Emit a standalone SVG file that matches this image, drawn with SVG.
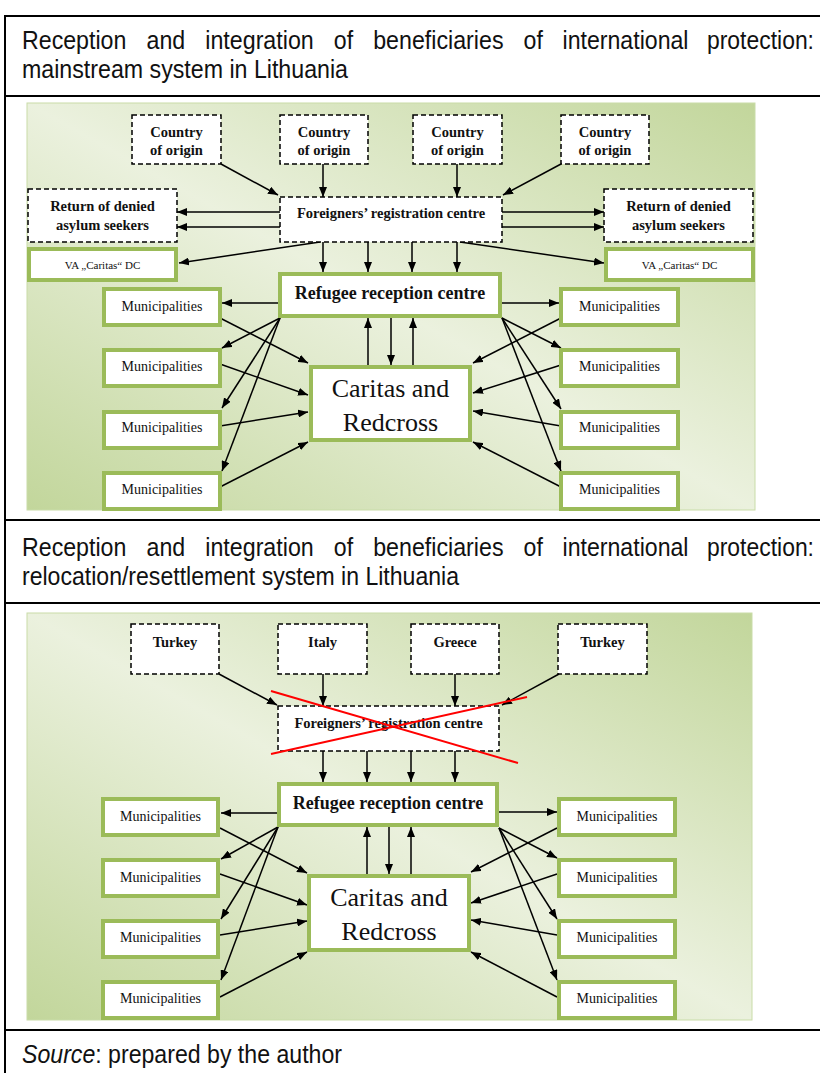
<svg xmlns="http://www.w3.org/2000/svg" width="820" height="1073" viewBox="0 0 820 1073">
<defs>
<linearGradient id="bg" x1="1" y1="0" x2="0" y2="1">
<stop offset="0" stop-color="#c2d69b"/>
<stop offset="0.5" stop-color="#ebf1de"/>
<stop offset="1" stop-color="#c2d69b"/>
</linearGradient>
<marker id="ah" viewBox="0 0 10 8" refX="10" refY="4" markerWidth="10" markerHeight="8" markerUnits="userSpaceOnUse" orient="auto">
<path d="M0,0 L10,4 L0,8 z" fill="#000"/>
</marker>
<style>
.tline{stroke:#000;stroke-width:2;fill:none}
.ttl{font-family:"Liberation Sans Narrow","Liberation Sans",Arial,sans-serif;font-size:25px;fill:#111}
.panel{fill:url(#bg);stroke:#c9dca8;stroke-width:1}
.dash{fill:#fff;stroke:#000;stroke-width:1.5;stroke-dasharray:5,3}
.grn{fill:#fff;stroke:#9bbb59;stroke-width:4}
.b{font-family:"Liberation Serif","Times New Roman",serif;font-weight:bold;font-size:14.5px;fill:#111;text-anchor:middle}
.rc{font-family:"Liberation Serif","Times New Roman",serif;font-weight:bold;font-size:18px;fill:#111;text-anchor:middle}
.m{font-family:"Liberation Serif","Times New Roman",serif;font-size:14px;fill:#111;text-anchor:middle}
.va{font-family:"Liberation Serif","Times New Roman",serif;font-size:11px;fill:#111;text-anchor:middle}
.cr{font-family:"Liberation Serif","Times New Roman",serif;font-size:26px;fill:#111;text-anchor:middle}
.ar{stroke:#000;stroke-width:1.5;fill:none;marker-end:url(#ah)}
.x{stroke:#ff0000;stroke-width:2;fill:none}
</style>
</defs>
<rect width="820" height="1073" fill="#fff"/>

<g id="table">
<line class="tline" x1="5" y1="16" x2="820" y2="16"/>
<line class="tline" x1="5" y1="96" x2="820" y2="96"/>
<line class="tline" x1="5" y1="520" x2="820" y2="520"/>
<line class="tline" x1="5" y1="603" x2="820" y2="603"/>
<line class="tline" x1="5" y1="1030" x2="820" y2="1030"/>
<line class="tline" x1="5" y1="15" x2="5" y2="1073"/>
</g>

<g id="title1" class="ttl">
<text y="49" x="22" textLength="104.4" lengthAdjust="spacingAndGlyphs">Reception</text>
<text y="49" x="146.5" textLength="38.7" lengthAdjust="spacingAndGlyphs">and</text>
<text y="49" x="205.3" textLength="108.4" lengthAdjust="spacingAndGlyphs">integration</text>
<text y="49" x="333.8" textLength="19.3" lengthAdjust="spacingAndGlyphs">of</text>
<text y="49" x="373.2" textLength="130.3" lengthAdjust="spacingAndGlyphs">beneficiaries</text>
<text y="49" x="523.6" textLength="19.3" lengthAdjust="spacingAndGlyphs">of</text>
<text y="49" x="562.5" textLength="126" lengthAdjust="spacingAndGlyphs">international</text>
<text y="49" x="707" textLength="107" lengthAdjust="spacingAndGlyphs">protection:</text>
<text y="78" x="22" textLength="326" lengthAdjust="spacingAndGlyphs">mainstream system in Lithuania</text>
</g>

<g id="title2" class="ttl">
<text y="556" x="22" textLength="104.4" lengthAdjust="spacingAndGlyphs">Reception</text>
<text y="556" x="146.5" textLength="38.7" lengthAdjust="spacingAndGlyphs">and</text>
<text y="556" x="205.3" textLength="108.4" lengthAdjust="spacingAndGlyphs">integration</text>
<text y="556" x="333.8" textLength="19.3" lengthAdjust="spacingAndGlyphs">of</text>
<text y="556" x="373.2" textLength="130.3" lengthAdjust="spacingAndGlyphs">beneficiaries</text>
<text y="556" x="523.6" textLength="19.3" lengthAdjust="spacingAndGlyphs">of</text>
<text y="556" x="562.5" textLength="126" lengthAdjust="spacingAndGlyphs">international</text>
<text y="556" x="707" textLength="107" lengthAdjust="spacingAndGlyphs">protection:</text>
<text y="585" x="22" textLength="437" lengthAdjust="spacingAndGlyphs">relocation/resettlement system in Lithuania</text>
</g>

<g id="source" class="ttl">
<text y="1063" x="22" textLength="320" lengthAdjust="spacingAndGlyphs"><tspan font-style="italic">Source</tspan>: prepared by the author</text>
</g>

<!-- ===== Diagram 1 ===== -->
<rect id="panel1" class="panel" x="27" y="103" width="728" height="407"/>

<g id="d1-connectors">
<line class="ar" x1="221" y1="164" x2="278" y2="195"/>
<line class="ar" x1="323" y1="164" x2="323" y2="197"/>
<line class="ar" x1="457" y1="164" x2="457" y2="197"/>
<line class="ar" x1="561" y1="164" x2="503" y2="195"/>
<line class="ar" x1="280" y1="212" x2="177" y2="212"/>
<line class="ar" x1="280" y1="227" x2="177" y2="227"/>
<line class="ar" x1="502" y1="212" x2="604" y2="212"/>
<line class="ar" x1="502" y1="227" x2="604" y2="227"/>
<line class="ar" x1="320" y1="242" x2="179" y2="263"/>
<line class="ar" x1="460" y1="242" x2="604" y2="263"/>
<line class="ar" x1="323" y1="242" x2="323" y2="272"/>
<line class="ar" x1="368" y1="242" x2="368" y2="272"/>
<line class="ar" x1="412" y1="242" x2="412" y2="272"/>
<line class="ar" x1="457" y1="242" x2="457" y2="272"/>
<line class="ar" x1="278" y1="303" x2="222" y2="303"/>
<line class="ar" x1="502" y1="303" x2="559" y2="303"/>
<line class="ar" x1="280" y1="318" x2="222" y2="348"/>
<line class="ar" x1="280" y1="318" x2="222" y2="408"/>
<line class="ar" x1="280" y1="318" x2="222" y2="471"/>
<line class="ar" x1="502" y1="318" x2="561" y2="348"/>
<line class="ar" x1="502" y1="318" x2="561" y2="409"/>
<line class="ar" x1="502" y1="318" x2="561" y2="471"/>
<line class="ar" x1="220" y1="318" x2="308" y2="363"/>
<line class="ar" x1="220" y1="364" x2="308" y2="395"/>
<line class="ar" x1="220" y1="426" x2="308" y2="412"/>
<line class="ar" x1="220" y1="487" x2="308" y2="442"/>
<line class="ar" x1="561" y1="318" x2="473" y2="363"/>
<line class="ar" x1="561" y1="365" x2="473" y2="393"/>
<line class="ar" x1="561" y1="426" x2="473" y2="411"/>
<line class="ar" x1="561" y1="487" x2="473" y2="442"/>
<line class="ar" x1="368" y1="365" x2="368" y2="318"/>
<line class="ar" x1="391" y1="318" x2="391" y2="365"/>
<line class="ar" x1="413" y1="365" x2="413" y2="318"/>
</g>

<g id="d1-country1"><rect class="dash" x="132" y="115" width="89" height="49"/><text class="b" x="176.5" y="137">Country</text><text class="b" x="176.5" y="155">of origin</text></g>
<g id="d1-country2"><rect class="dash" x="280" y="115" width="88" height="49"/><text class="b" x="324" y="137">Country</text><text class="b" x="324" y="155">of origin</text></g>
<g id="d1-country3"><rect class="dash" x="413" y="115" width="89" height="49"/><text class="b" x="457.5" y="137">Country</text><text class="b" x="457.5" y="155">of origin</text></g>
<g id="d1-country4"><rect class="dash" x="561" y="115" width="88" height="49"/><text class="b" x="605" y="137">Country</text><text class="b" x="605" y="155">of origin</text></g>
<g id="d1-return-left"><rect class="dash" x="28" y="189" width="149" height="53"/><text class="b" x="102.5" y="211">Return of denied</text><text class="b" x="102.5" y="230">asylum seekers</text></g>
<g id="d1-return-right"><rect class="dash" x="604" y="189" width="149" height="53"/><text class="b" x="678.5" y="211">Return of denied</text><text class="b" x="678.5" y="230">asylum seekers</text></g>
<g id="d1-foreigners"><rect class="dash" x="280" y="197" width="222" height="45"/><text class="b" x="391" y="218">Foreigners’ registration centre</text></g>
<g id="d1-va-left"><rect class="grn" x="29" y="249" width="147" height="31"/><text class="va" x="102.5" y="269">VA „Caritas“ DC</text></g>
<g id="d1-va-right"><rect class="grn" x="606" y="249" width="147" height="31"/><text class="va" x="679.5" y="269">VA „Caritas“ DC</text></g>
<g id="d1-refugee"><rect class="grn" x="280" y="274" width="220" height="42"/><text class="rc" x="390" y="299">Refugee reception centre</text></g>
<g id="d1-muni-l1"><rect class="grn" x="104" y="289" width="116" height="36"/><text class="m" x="162" y="311">Municipalities</text></g>
<g id="d1-muni-l2"><rect class="grn" x="104" y="350" width="116" height="36"/><text class="m" x="162" y="371">Municipalities</text></g>
<g id="d1-muni-l3"><rect class="grn" x="104" y="412" width="116" height="36"/><text class="m" x="162" y="432">Municipalities</text></g>
<g id="d1-muni-l4"><rect class="grn" x="104" y="473" width="116" height="36"/><text class="m" x="162" y="494">Municipalities</text></g>
<g id="d1-muni-r1"><rect class="grn" x="561" y="289" width="117" height="36"/><text class="m" x="619.5" y="311">Municipalities</text></g>
<g id="d1-muni-r2"><rect class="grn" x="561" y="350" width="117" height="36"/><text class="m" x="619.5" y="371">Municipalities</text></g>
<g id="d1-muni-r3"><rect class="grn" x="561" y="412" width="117" height="36"/><text class="m" x="619.5" y="432">Municipalities</text></g>
<g id="d1-muni-r4"><rect class="grn" x="561" y="473" width="117" height="36"/><text class="m" x="619.5" y="494">Municipalities</text></g>
<g id="d1-caritas"><rect class="grn" x="311" y="367" width="159" height="73"/><text class="cr" x="390.5" y="397">Caritas and</text><text class="cr" x="390.5" y="431">Redcross</text></g>

<!-- ===== Diagram 2 ===== -->
<rect id="panel2" class="panel" x="27" y="613" width="725" height="407"/>

<g id="d2-connectors">
<line class="ar" x1="219" y1="674" x2="277" y2="705"/>
<line class="ar" x1="323" y1="674" x2="323" y2="706"/>
<line class="ar" x1="455" y1="674" x2="455" y2="706"/>
<line class="ar" x1="559" y1="674" x2="502" y2="705"/>
<line class="ar" x1="323" y1="751" x2="323" y2="782"/>
<line class="ar" x1="367" y1="751" x2="367" y2="782"/>
<line class="ar" x1="411" y1="751" x2="411" y2="782"/>
<line class="ar" x1="455" y1="751" x2="455" y2="782"/>
<line class="ar" x1="277" y1="813" x2="221" y2="813"/>
<line class="ar" x1="499" y1="812" x2="557" y2="812"/>
<line class="ar" x1="278" y1="827" x2="221" y2="859"/>
<line class="ar" x1="278" y1="827" x2="221" y2="919"/>
<line class="ar" x1="278" y1="827" x2="221" y2="980"/>
<line class="ar" x1="499" y1="828" x2="557" y2="858"/>
<line class="ar" x1="499" y1="828" x2="557" y2="919"/>
<line class="ar" x1="499" y1="828" x2="557" y2="980"/>
<line class="ar" x1="220" y1="828" x2="307" y2="873"/>
<line class="ar" x1="220" y1="874" x2="307" y2="905"/>
<line class="ar" x1="220" y1="935" x2="307" y2="921"/>
<line class="ar" x1="220" y1="997" x2="307" y2="952"/>
<line class="ar" x1="557" y1="828" x2="471" y2="872"/>
<line class="ar" x1="557" y1="874" x2="471" y2="903"/>
<line class="ar" x1="557" y1="935" x2="471" y2="920"/>
<line class="ar" x1="557" y1="997" x2="471" y2="952"/>
<line class="ar" x1="367" y1="874" x2="367" y2="827"/>
<line class="ar" x1="389" y1="827" x2="389" y2="874"/>
<line class="ar" x1="411" y1="874" x2="411" y2="827"/>
</g>

<g id="d2-turkey1"><rect class="dash" x="131" y="624" width="88" height="50"/><text class="b" x="175" y="647">Turkey</text></g>
<g id="d2-italy"><rect class="dash" x="278" y="624" width="89" height="50"/><text class="b" x="322.5" y="647">Italy</text></g>
<g id="d2-greece"><rect class="dash" x="411" y="624" width="88" height="50"/><text class="b" x="455" y="647">Greece</text></g>
<g id="d2-turkey2"><rect class="dash" x="558" y="624" width="89" height="50"/><text class="b" x="602.5" y="647">Turkey</text></g>
<g id="d2-foreigners"><rect class="dash" x="278" y="706" width="221" height="45"/><text class="b" x="388.5" y="728">Foreigners’ registration centre</text></g>
<g id="d2-refugee"><rect class="grn" x="279" y="784" width="218" height="41"/><text class="rc" x="388" y="809">Refugee reception centre</text></g>
<g id="d2-muni-l1"><rect class="grn" x="103" y="799" width="115" height="36"/><text class="m" x="160.5" y="821">Municipalities</text></g>
<g id="d2-muni-l2"><rect class="grn" x="103" y="860" width="115" height="36"/><text class="m" x="160.5" y="882">Municipalities</text></g>
<g id="d2-muni-l3"><rect class="grn" x="103" y="921" width="115" height="36"/><text class="m" x="160.5" y="942">Municipalities</text></g>
<g id="d2-muni-l4"><rect class="grn" x="103" y="982" width="115" height="36"/><text class="m" x="160.5" y="1003">Municipalities</text></g>
<g id="d2-muni-r1"><rect class="grn" x="559" y="799" width="116" height="36"/><text class="m" x="617" y="821">Municipalities</text></g>
<g id="d2-muni-r2"><rect class="grn" x="559" y="860" width="116" height="36"/><text class="m" x="617" y="882">Municipalities</text></g>
<g id="d2-muni-r3"><rect class="grn" x="559" y="921" width="116" height="36"/><text class="m" x="617" y="942">Municipalities</text></g>
<g id="d2-muni-r4"><rect class="grn" x="559" y="982" width="116" height="36"/><text class="m" x="617" y="1003">Municipalities</text></g>
<g id="d2-caritas"><rect class="grn" x="309" y="876" width="160" height="74"/><text class="cr" x="389" y="906">Caritas and</text><text class="cr" x="389" y="940">Redcross</text></g>

<g id="d2-cross">
<line class="x" x1="271" y1="691" x2="518" y2="763"/>
<line class="x" x1="271" y1="754" x2="527" y2="697"/>
</g>
</svg>
